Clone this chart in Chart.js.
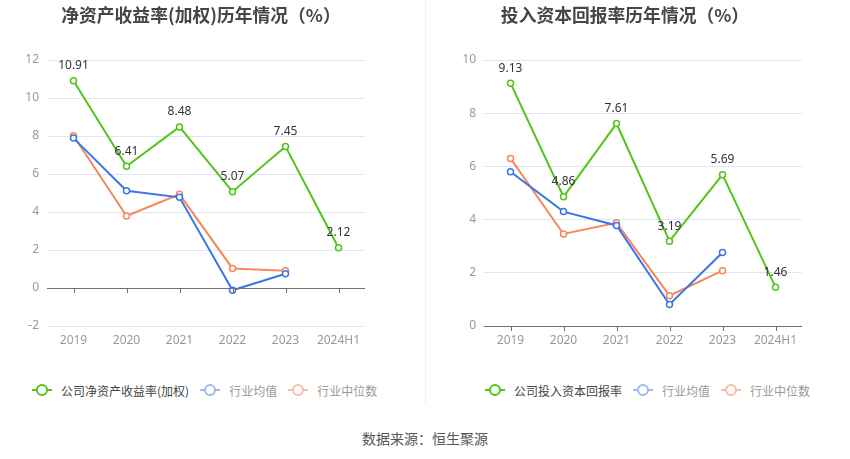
<!DOCTYPE html>
<html><head><meta charset="utf-8">
<script src="https://cdn.jsdelivr.net/npm/chart.js@4/dist/chart.umd.min.js"></script>
<style>
body{margin:0;background:#fff;font-family:"Noto Sans CJK SC","Noto Sans",sans-serif;}
#wrap{position:relative;width:850px;height:459px;overflow:hidden;}
.box{position:absolute;top:0;width:425px;height:370px;}
.title{position:absolute;top:1px;font-size:17.8px;font-weight:bold;color:#464646;white-space:nowrap;transform:translateX(-50%);}
.sep{position:absolute;left:425px;top:0;width:1px;height:405px;background:#eeeeee;}
.legend{position:absolute;top:381px;height:18px;font-size:12px;white-space:nowrap;display:flex;align-items:center;}
.li{display:flex;align-items:center;margin-right:11px;}
.ic{position:relative;width:20px;height:14px;margin-right:9px;}
.ic .ln{position:absolute;left:0;top:6px;width:20px;height:2px;}
.ic .cc{position:absolute;left:4px;top:1px;width:8px;height:8px;border-radius:50%;border:2px solid;background:#fff;}
.src{position:absolute;top:428px;left:0;width:850px;text-align:center;font-size:14px;color:#555;}
</style></head>
<body><div id="wrap">
<div class="box" style="left:0"><canvas id="c1"></canvas></div>
<div class="box" style="left:425px"><canvas id="c2"></canvas></div>
<div class="title" style="left:201px">净资产收益率(加权)历年情况（%）</div>
<div class="title" style="left:625px">投入资本回报率历年情况（%）</div>
<div class="sep"></div>
<div class="legend" id="lg1" style="left:32px"></div>
<div class="legend" id="lg2" style="left:485px"></div>
<div class="src">数据来源：恒生聚源</div>
</div>
<script>
const categories = ["2019","2020","2021","2022","2023","2024H1"];
const roeCompany = [10.91, 6.41, 8.48, 5.07, 7.45, 2.12];
const roeIndustryAvg = [7.89, 5.12, 4.77, -0.12, 0.75, null];
const roeIndustryMedian = [8.01, 3.79, 4.93, 1.03, 0.91, null];
const roicCompany = [9.13, 4.86, 7.61, 3.19, 5.69, 1.46];
const roicIndustryAvg = [5.80, 4.30, 3.78, 0.81, 2.76, null];
const roicIndustryMedian = [6.30, 3.46, 3.88, 1.14, 2.08, null];
const roeTicks = {min:-2, max:12, step:2};
const roicTicks = {min:0, max:10, step:2};
const legend1 = ["公司净资产收益率(加权)","行业均值","行业中位数"];
const legend2 = ["公司投入资本回报率","行业均值","行业中位数"];

const GREEN="#52c41a", BLUE="#3a76e6", ORANGE="#f5875c";
const LEG_COLORS=[GREEN,"#9cb9f3","#f9bda3"];
const LEG_TEXT=["#444","#999","#999"];

function buildLegend(id, names){
  const el=document.getElementById(id);
  names.forEach((n,i)=>{
    const d=document.createElement('div');d.className='li';
    d.innerHTML='<span class="ic"><span class="ln" style="background:'+LEG_COLORS[i]+'"></span><span class="cc" style="border-color:'+LEG_COLORS[i]+'"></span></span><span style="color:'+LEG_TEXT[i]+'">'+n+'</span>';
    el.appendChild(d);
  });
}
buildLegend('lg1',legend1);buildLegend('lg2',legend2);

const axisPlugin={
  id:'axisPlugin',
  afterDatasetsDraw(chart){
    const ctx=chart.ctx, x=chart.scales.x, y=chart.scales.y;
    const y0=y.getPixelForValue(0);
    ctx.save();
    ctx.strokeStyle='#6e7079';ctx.lineWidth=1;
    ctx.beginPath();ctx.moveTo(chart.chartArea.left,Math.round(y0)+0.5);ctx.lineTo(chart.chartArea.right,Math.round(y0)+0.5);ctx.stroke();
    categories.forEach((c,i)=>{
      const px=Math.round(x.getPixelForValue(i))+0.5;
      ctx.beginPath();ctx.moveTo(px,y0);ctx.lineTo(px,y0+5);ctx.stroke();
    });
    const meta=chart.getDatasetMeta(0);
    ctx.fillStyle='#333';ctx.font='12px "Noto Sans","Noto Sans CJK SC",sans-serif';
    ctx.textAlign='center';ctx.textBaseline='middle';
    meta.data.forEach((p,i)=>{
      const v=chart.data.datasets[0].data[i];
      if(v==null)return;
      ctx.fillText(v.toFixed(2),p.x,p.y-15);
    });
    ctx.restore();
  }
};

function ds(label,data,color){
  return {label,data,borderColor:color,backgroundColor:'#fff',pointBackgroundColor:'#fff',pointBorderColor:color,
    borderWidth:2,pointRadius:3,pointBorderWidth:1.5,pointHoverRadius:3,tension:0,spanGaps:false};
}

function make(id,names,d1,d2,d3,t,yW,padR){
  new Chart(document.getElementById(id),{
    type:'line',
    data:{labels:categories,datasets:[ds(names[0],d1,GREEN),ds(names[1],d2,BLUE),ds(names[2],d3,ORANGE)]},
    options:{
      responsive:true,maintainAspectRatio:false,animation:false,
      layout:{padding:{left:0,right:padR,top:60,bottom:14}},
      plugins:{legend:{display:false},tooltip:{enabled:false},title:{display:false}},
      scales:{
        x:{offset:true,grid:{display:false,drawTicks:false},border:{display:false},
           ticks:{color:'#999',font:{size:12,family:'"Noto Sans",sans-serif'},padding:7,maxRotation:0},
           afterFit(s){s.height=30;}},
        y:{min:t.min,max:t.max,ticks:{stepSize:t.step,color:'#999',font:{size:12,family:'"Noto Sans",sans-serif'},padding:8},
           grid:{color:'#e0e6f1',drawTicks:false},border:{display:false},
           afterFit(s){s.width=yW;}}
      }
    },
    plugins:[axisPlugin]
  });
}
make('c1',legend1,roeCompany,roeIndustryAvg,roeIndustryMedian,roeTicks,47,60);
make('c2',legend2,roicCompany,roicIndustryAvg,roicIndustryMedian,roicTicks,59,48);
</script>
</body></html>
